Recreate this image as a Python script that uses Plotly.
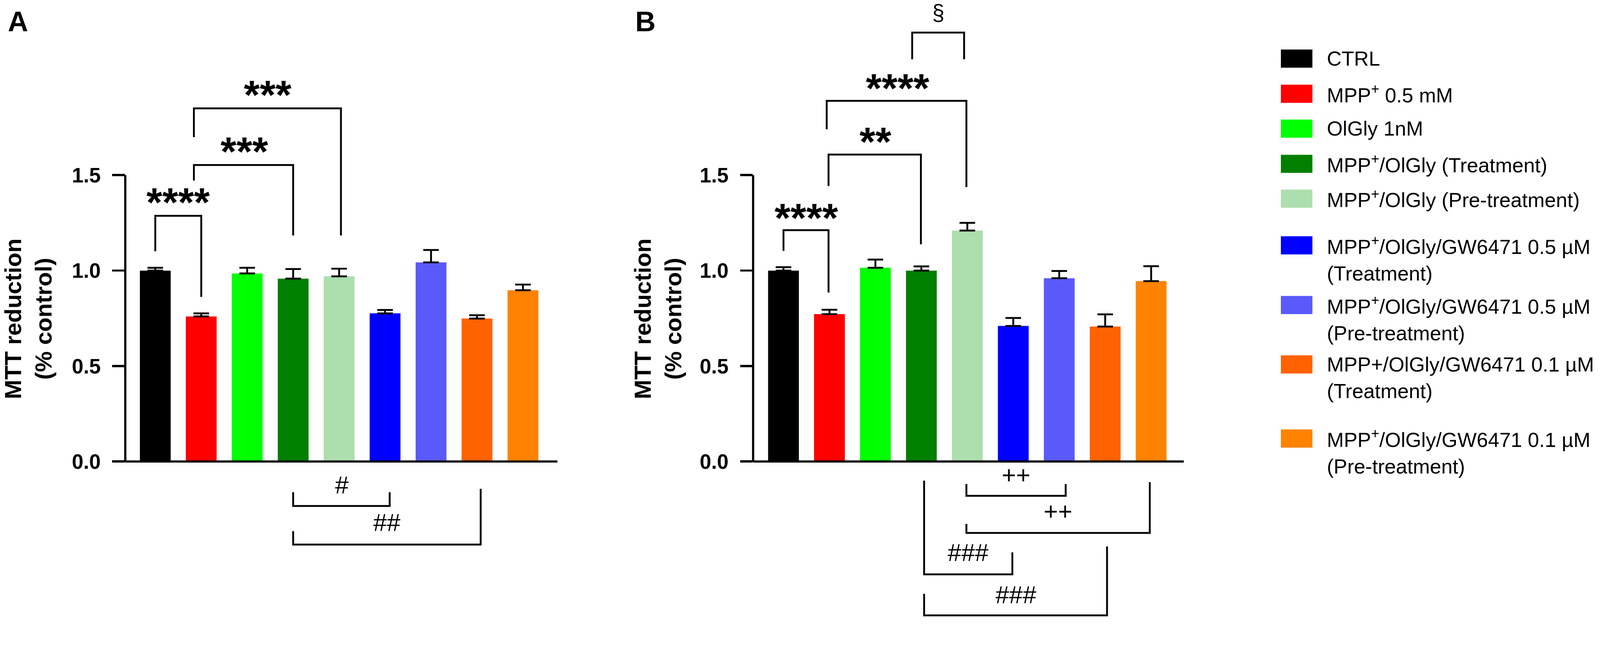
import plotly.graph_objects as go

# groups (same order in both panels)
groups = ["CTRL", "MPP<sup>+</sup> 0.5 mM", "OlGly 1nM",
          "MPP<sup>+</sup>/OlGly (Treatment)", "MPP<sup>+</sup>/OlGly (Pre-treatment)",
          "MPP<sup>+</sup>/OlGly/GW6471 0.5 µM<br>(Treatment)",
          "MPP<sup>+</sup>/OlGly/GW6471 0.5 µM<br>(Pre-treatment)",
          "MPP+/OlGly/GW6471 0.1 µM<br>(Treatment)",
          "MPP<sup>+</sup>/OlGly/GW6471 0.1 µM<br>(Pre-treatment)"]
colors = ["#000000", "#ff0000", "#00ff00", "#007f00", "#addead",
          "#0000ff", "#5a5afa", "#ff6200", "#ff8200"]

# panel A: mean and SEM (upper only)
a_mean = [1.00, 0.76, 0.985, 0.958, 0.97, 0.776, 1.043, 0.749, 0.897]
a_sem = [0.015, 0.016, 0.03, 0.05, 0.04, 0.018, 0.065, 0.017, 0.03]

# panel B
b_mean = [1.00, 0.772, 1.015, 1.00, 1.21, 0.71, 0.96, 0.707, 0.945]
b_sem = [0.018, 0.023, 0.043, 0.022, 0.04, 0.042, 0.038, 0.064, 0.078]

# significance brackets: x left, x right, left leg end, bar level, right leg end, label, label x, label y
a_brackets = [
    (0.0, 1.0, 1.101, 1.287, 0.862, "****", 0.5, 1.377),
    (0.84, 3.0, 1.472, 1.553, 1.184, "***", 1.94, 1.643),
    (0.84, 4.04, 1.699, 1.850, 1.184, "***", 2.45, 1.940),
    (3.0, 5.1, -0.161, -0.233, -0.161, "#", 4.06, -0.122),
    (3.0, 7.08, -0.365, -0.435, -0.143, "##", 5.04, -0.318),
]
b_brackets = [
    (0.0, 0.98, 1.103, 1.212, 0.885, "****", 0.5, 1.297),
    (0.98, 2.99, 1.443, 1.608, 1.138, "**", 2.0, 1.695),
    (0.94, 3.98, 1.740, 1.889, 1.437, "****", 2.48, 1.975),
    (2.8, 3.93, 2.107, 2.247, 2.107, "§", 3.37, 2.35),
    (3.98, 6.14, -0.118, -0.180, -0.118, "++", 5.06, -0.072),
    (3.98, 7.97, -0.327, -0.374, -0.108, "++", 5.97, -0.263),
    (3.06, 4.98, -0.100, -0.591, -0.476, "###", 4.02, -0.478),
    (3.06, 7.04, -0.693, -0.806, -0.445, "###", 5.06, -0.697),
]

FONT = "Liberation Sans, Arial, sans-serif"
W, H = 4317, 1674

fig = go.Figure()

panels = [("x", "y", a_mean, a_sem, a_brackets),
          ("x2", "y2", b_mean, b_sem, b_brackets)]

for xr, yr, mean, sem, brackets in panels:
    fig.add_trace(go.Bar(
        x=list(range(len(mean))), y=mean, width=0.67,
        marker=dict(color=colors, line=dict(width=0)),
        error_y=dict(type="data", array=sem, arrayminus=[0] * len(sem),
                     symmetric=False, color="black", thickness=5, width=21),
        xaxis=xr, yaxis=yr, showlegend=False, hoverinfo="skip"))
    for x0, x1, l0, yb, r0, lab, lx, ly in brackets:
        fig.add_trace(go.Scatter(
            x=[x0, x0, x1, x1], y=[l0, yb, yb, r0], mode="lines",
            line=dict(color="black", width=5), xaxis=xr, yaxis=yr,
            showlegend=False, hoverinfo="skip"))
        star = lab.startswith("*")
        size = 110 if star else (60 if lab == "§" else 66)
        fig.add_annotation(
            x=lx, y=ly, xref=xr, yref=yr, text=lab, showarrow=False,
            xanchor="center", yanchor="middle",
            yshift=-10 if star else 0,
            font=dict(family=FONT, size=size, color="black",
                      weight="bold" if star else "normal"))
    # axis lines
    fig.add_shape(type="line", xref=xr + " domain", x0=0, x1=1, yref=yr, y0=0, y1=0,
                  line=dict(color="black", width=6), layer="above")
    fig.add_shape(type="line", xref=xr + " domain", x0=0, x1=0, yref=yr, y0=0, y1=1.5,
                  line=dict(color="black", width=6), layer="above")

yax = dict(range=[-0.833, 2.4175], domain=[0, 1], showgrid=False, zeroline=False,
           showline=False, ticks="outside", ticklen=34, tickwidth=6, tickcolor="black",
           tickvals=[0, 0.5, 1.0, 1.5], ticktext=["0.0", "0.5", "1.0", "1.5"],
           ticklabelstandoff=20,
           tickfont=dict(family=FONT, size=56, color="black", weight="bold"))
xax = dict(showgrid=False, zeroline=False, showline=False, showticklabels=False, ticks="")

fig.update_layout(
    width=W, height=H, margin=dict(l=0, r=0, t=0, b=0),
    paper_bgcolor="white", plot_bgcolor="white",
    xaxis=dict(xax, domain=[338 / W, 1504 / W], range=[-0.653, 8.75], anchor="y"),
    yaxis=dict(yax, anchor="x"),
    xaxis2=dict(xax, domain=[2032 / W, 3194 / W], range=[-0.661, 8.71], anchor="y2"),
    yaxis2=dict(yax, anchor="x2"),
)

# y titles and panel letters
for xp, letter, lxp in [(76, "A", 48), (1775, "B", 1741)]:
    fig.add_annotation(xref="paper", yref="paper", x=xp / W, y=1 - 860 / H,
                       text="MTT reduction<br>(% control)", textangle=-90,
                       showarrow=False, xanchor="center", yanchor="middle",
                       font=dict(family=FONT, size=63, color="black", weight="bold"))
    fig.add_annotation(xref="paper", yref="paper", x=lxp / W, y=1 - 57 / H,
                       text=letter, showarrow=False, xanchor="center", yanchor="middle",
                       font=dict(family=FONT, size=76, color="black", weight="bold"))

# legend drawn by hand (large swatches, uneven spacing)
legend_rows = [158, 253, 347, 442, 536, 662, 823, 983, 1183]
for name, col, yc in zip(groups, colors, legend_rows):
    fig.add_shape(type="rect", xref="paper", yref="paper",
                  x0=3456 / W, x1=3541 / W, y0=1 - (yc + 24.5) / H, y1=1 - (yc - 24.5) / H,
                  fillcolor=col, line=dict(width=0))
    nl = name.count("<br>")
    fig.add_annotation(xref="paper", yref="paper", x=3578 / W, y=1 - (yc + nl * 36) / H,
                       text=name, showarrow=False, xanchor="left", yanchor="middle",
                       align="left", font=dict(family=FONT, size=55, color="black"))

# no page margin, and fit the fixed-size figure into whatever viewport is there
fit_js = """
document.documentElement.style.overflow = 'hidden';
document.body.style.margin = '0';
document.body.style.overflow = 'hidden';
var gd = document.getElementById('{plot_id}');
var s = Math.min(window.innerWidth / %d, window.innerHeight / %d);
gd.style.transformOrigin = '0 0';
gd.style.transform = 'scale(' + s + ')';
""" % (W, H)

fig.write_html("out.html", config={"displayModeBar": False}, post_script=fit_js)
